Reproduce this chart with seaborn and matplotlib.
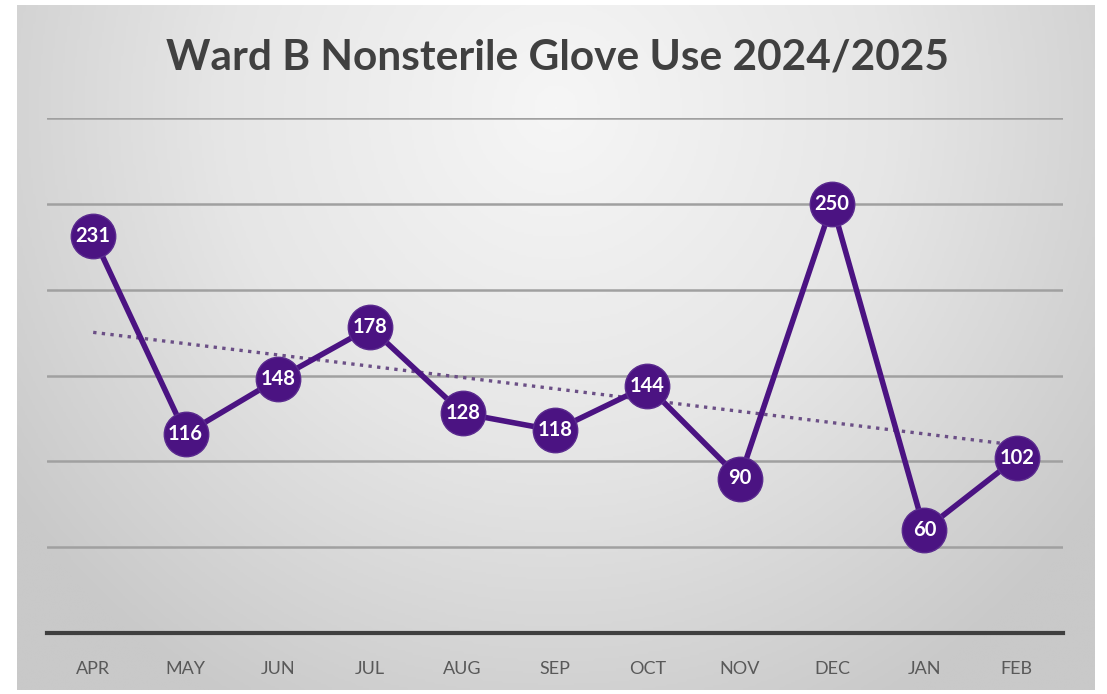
import numpy as np
import pandas as pd
import matplotlib
matplotlib.use("Agg")
import matplotlib.pyplot as plt
import seaborn as sns
from matplotlib.colors import LinearSegmentedColormap

months = ["APR", "MAY", "JUN", "JUL", "AUG", "SEP", "OCT", "NOV", "DEC", "JAN", "FEB"]
glove_use = [231, 116, 148, 178, 128, 118, 144, 90, 250, 60, 102]
title = "Ward B Nonsterile Glove Use 2024/2025"

df = pd.DataFrame({"month": months, "x": np.arange(len(months)), "use": glove_use})

sns.set_theme(style="white")
plt.rcParams["font.family"] = ["Lato", "DejaVu Sans"]

W, H = 1107, 694
fig = plt.figure(figsize=(W / 100, H / 100), dpi=100)
fig.patch.set_facecolor("white")

# background gradient panel
bg = fig.add_axes([17 / W, 4 / H, (1095 - 17) / W, (689 - 4) / H])
bg.set_axis_off()
ny, nx = 300, 480
yy, xx = np.mgrid[0:1:ny * 1j, 0:1:nx * 1j]
r = np.sqrt(((xx - 0.5) / 0.62) ** 2 + ((yy - 0.15) / 1.0) ** 2)
cmap = LinearSegmentedColormap.from_list("g", ["#f6f6f6", "#e6e6e6", "#c9c9c9"])
bg.imshow(np.clip(r, 0, 1), cmap=cmap, vmin=0, vmax=1, aspect="auto",
          extent=[0, 1, 0, 1], origin="upper", interpolation="bilinear")
bg.set_xlim(0, 1)
bg.set_ylim(0, 1)

ax = fig.add_axes([47 / W, 1 - 633 / H, (1063 - 47) / W, (633 - 118) / H])
ax.patch.set_alpha(0)
ax.set_xlim(-0.5, len(months) - 0.5)
ax.set_ylim(0, 300)
ax.set_yticks([50, 100, 150, 200, 250, 300])
ax.yaxis.grid(True, color="#a0a0a0", linewidth=1.8)
ax.set_axisbelow(True)
for s in ["top", "right", "left"]:
    ax.spines[s].set_visible(False)
ax.spines["bottom"].set_color("#3f3f3f")
ax.spines["bottom"].set_linewidth(3)
ax.tick_params(axis="y", left=False, labelleft=False)
ax.set_xticks(df["x"])
ax.set_xticklabels(months, color="#595959", fontsize=13)
ax.tick_params(axis="x", bottom=False, pad=14)

purple = "#4b1382"

sns.regplot(data=df, x="x", y="use", scatter=False, ci=None, ax=ax,
            line_kws=dict(color="#6b4f86", linestyle=(0, (1, 1.6)), linewidth=2.4))

sns.lineplot(data=df, x="x", y="use", ax=ax, color=purple, linewidth=4,
             marker="o", markersize=32, markeredgecolor="#5a2a8e",
             markeredgewidth=1, zorder=4)

for xi, v in zip(df["x"], df["use"]):
    ax.text(xi, v, str(v), ha="center", va="center", color="white",
            fontsize=14.5, fontweight="bold", zorder=5)

ax.set_xlabel("")
ax.set_ylabel("")

fig.text(557 / W, 1 - 58 / H, title, ha="center", va="center",
         fontsize=30.5, fontweight="bold", color="#404040")

fig.savefig("out.png", dpi=100)
